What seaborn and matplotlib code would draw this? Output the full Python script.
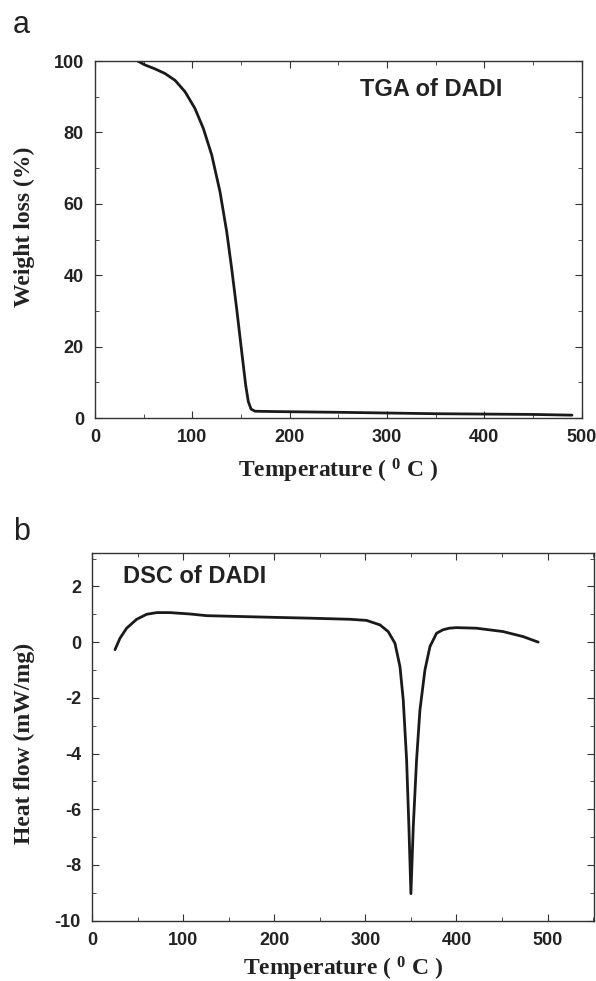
import numpy as np
import pandas as pd
import seaborn as sns
import matplotlib.pyplot as plt
from matplotlib.ticker import MultipleLocator

# TGA curve
tga_temp = [43.8, 51.4, 61.6, 71.9, 82.2, 92.5, 102.7, 111.3, 119.9, 128.4, 135.3, 140.4,
            145.5, 150.7, 154.8, 157.5, 160.3, 164.4, 185, 250, 300, 350, 400, 450, 490]
tga_weight = [100, 98.9, 97.8, 96.5, 94.6, 91.4, 86.7, 81.1, 73.7, 63.4, 52.2, 41.9,
              30.7, 18.6, 9.2, 4.6, 2.5, 1.9, 1.8, 1.6, 1.4, 1.2, 1.1, 1.0, 0.8]

# DSC curve
dsc_temp = [25.2, 30.7, 38, 49, 60, 71, 85.6, 107.5, 125.8, 162.4, 199, 239, 283, 301.3,
            316, 325, 332.5, 338, 341.6, 345.3, 347.8, 350, 352.6, 356.2, 359.9, 365.4,
            370.9, 378.2, 385, 392, 399.8, 421.8, 451, 473, 489.7]
dsc_flow = [-0.27, 0.14, 0.50, 0.82, 1.0, 1.06, 1.06, 1.01, 0.95, 0.92, 0.89, 0.86, 0.82, 0.78,
            0.62, 0.38, -0.04, -0.88, -2.08, -4.24, -6.63, -9.03, -6.63, -4.24, -2.44, -1.0,
            -0.16, 0.32, 0.44, 0.50, 0.52, 0.50, 0.38, 0.2, 0.0]

sns.set_style("ticks")
plt.rcParams["font.family"] = ["Liberation Sans", "DejaVu Sans"]
plt.rcParams["mathtext.fontset"] = "custom"
plt.rcParams["mathtext.bf"] = "Liberation Serif:bold"
plt.rcParams["mathtext.rm"] = "Liberation Serif:bold"
plt.rcParams["axes.unicode_minus"] = False

fig = plt.figure(figsize=(5.96, 9.81), dpi=100)
ax1 = fig.add_axes([0.1594, 0.5739, 0.8166, 0.3639])
ax2 = fig.add_axes([0.1544, 0.0615, 0.8423, 0.3748])

tga = pd.DataFrame({"T": tga_temp, "W": tga_weight})
dsc = pd.DataFrame({"T": dsc_temp, "H": dsc_flow})

sns.lineplot(data=tga, x="T", y="W", ax=ax1, color="#1a1a1a", lw=2.0, sort=False)
sns.lineplot(data=dsc, x="T", y="H", ax=ax2, color="#1a1a1a", lw=2.0, sort=False)

xlab = r"Temperature ( $\mathbf{^{0}}$ C )"
serif = dict(family="Liberation Serif", fontweight="bold", fontsize=17, color="#222222")

ax1.set_xlim(0, 500)
ax1.set_ylim(0, 100)
ax1.xaxis.set_major_locator(MultipleLocator(100))
ax1.xaxis.set_minor_locator(MultipleLocator(50))
ax1.yaxis.set_major_locator(MultipleLocator(20))
ax1.yaxis.set_minor_locator(MultipleLocator(10))
ax1.set_xlabel(xlab, labelpad=8, **serif)
ax1.set_ylabel("Weight loss (%)", **serif)
ax1.yaxis.set_label_coords(-0.123, 0.535)
ax1.text(0.69, 0.92, "TGA of DADI", transform=ax1.transAxes, ha="center", va="center",
         fontsize=17, fontweight="bold", color="#222222")

ax2.set_xlim(0, 551)
ax2.set_ylim(-10, 3.2)
ax2.xaxis.set_major_locator(MultipleLocator(100))
ax2.xaxis.set_minor_locator(MultipleLocator(50))
ax2.yaxis.set_major_locator(MultipleLocator(2))
ax2.yaxis.set_minor_locator(MultipleLocator(1))
ax2.set_xlabel(xlab, labelpad=4, **serif)
ax2.set_ylabel("Heat flow (mW/mg)", **serif)
ax2.yaxis.set_label_coords(-0.113, 0.483)
ax2.text(0.205, 0.935, "DSC of DADI", transform=ax2.transAxes, ha="center", va="center",
         fontsize=17, fontweight="bold", color="#222222")

for ax in (ax1, ax2):
    for s in ax.spines.values():
        s.set_visible(True)
        s.set_linewidth(1.0)
        s.set_color("#333333")
    ax.tick_params(which="both", direction="in", top=True, right=True, color="#333333")
    ax.tick_params(which="major", length=5, labelsize=13, pad=8)
    ax.tick_params(which="minor", length=3)
    for lab in ax.get_xticklabels() + ax.get_yticklabels():
        lab.set_fontweight("bold")
        lab.set_color("#222222")

fig.text(0.022, 0.99, "a", fontsize=22, va="top", color="#222222")
fig.text(0.022, 0.473, "b", fontsize=22, va="top", color="#222222")

fig.savefig("out.png", dpi=100)
